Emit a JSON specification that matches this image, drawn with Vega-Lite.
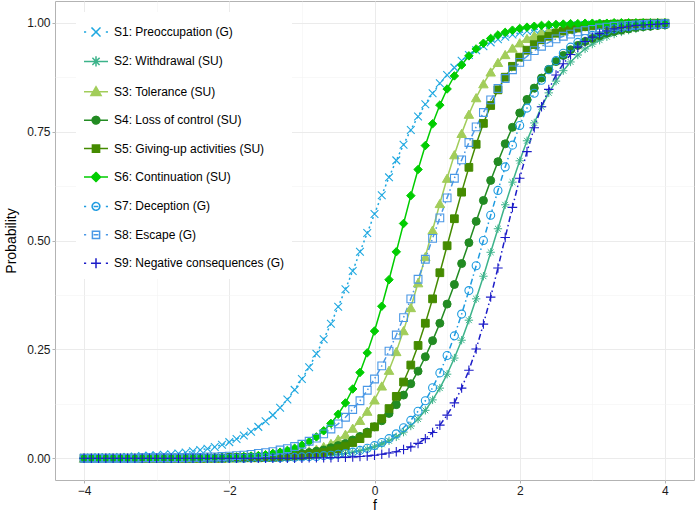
{
"$schema":"https://vega.github.io/schema/vega-lite/v6.json",
"width":639,"height":479,
"autosize":{"type":"none"},
"padding":{"left":55,"top":1,"right":3,"bottom":35},
"background":"white",
"config":{"view":{"stroke":"#B3B3B3","strokeWidth":1},"font":"Liberation Sans"},
"data":{"values":[
{"s":"S1","f":-4,"p":0.001},{"s":"S1","f":-3.9,"p":0.001},{"s":"S1","f":-3.8,"p":0.002},{"s":"S1","f":-3.7,"p":0.002},{"s":"S1","f":-3.6,"p":0.002},{"s":"S1","f":-3.5,"p":0.003},{"s":"S1","f":-3.4,"p":0.003},{"s":"S1","f":-3.3,"p":0.004},{"s":"S1","f":-3.2,"p":0.005},{"s":"S1","f":-3.1,"p":0.006},
{"s":"S1","f":-3,"p":0.007},{"s":"S1","f":-2.9,"p":0.008},{"s":"S1","f":-2.8,"p":0.009},{"s":"S1","f":-2.7,"p":0.011},{"s":"S1","f":-2.6,"p":0.013},{"s":"S1","f":-2.5,"p":0.016},{"s":"S1","f":-2.4,"p":0.019},{"s":"S1","f":-2.3,"p":0.022},{"s":"S1","f":-2.2,"p":0.026},{"s":"S1","f":-2.1,"p":0.031},
{"s":"S1","f":-2,"p":0.037},{"s":"S1","f":-1.9,"p":0.044},{"s":"S1","f":-1.8,"p":0.052},{"s":"S1","f":-1.7,"p":0.061},{"s":"S1","f":-1.6,"p":0.072},{"s":"S1","f":-1.5,"p":0.085},{"s":"S1","f":-1.4,"p":0.099},{"s":"S1","f":-1.3,"p":0.116},{"s":"S1","f":-1.2,"p":0.135},{"s":"S1","f":-1.1,"p":0.157},
{"s":"S1","f":-1,"p":0.182},{"s":"S1","f":-0.9,"p":0.209},{"s":"S1","f":-0.8,"p":0.240},{"s":"S1","f":-0.7,"p":0.273},{"s":"S1","f":-0.6,"p":0.309},{"s":"S1","f":-0.5,"p":0.348},{"s":"S1","f":-0.4,"p":0.388},{"s":"S1","f":-0.3,"p":0.430},{"s":"S1","f":-0.2,"p":0.474},{"s":"S1","f":-0.1,"p":0.517},
{"s":"S1","f":0,"p":0.561},{"s":"S1","f":0.1,"p":0.604},{"s":"S1","f":0.2,"p":0.645},{"s":"S1","f":0.3,"p":0.684},{"s":"S1","f":0.4,"p":0.720},{"s":"S1","f":0.5,"p":0.754},{"s":"S1","f":0.6,"p":0.785},{"s":"S1","f":0.7,"p":0.813},{"s":"S1","f":0.8,"p":0.838},{"s":"S1","f":0.9,"p":0.861},
{"s":"S1","f":1,"p":0.880},{"s":"S1","f":1.1,"p":0.897},{"s":"S1","f":1.2,"p":0.913},{"s":"S1","f":1.3,"p":0.926},{"s":"S1","f":1.4,"p":0.937},{"s":"S1","f":1.5,"p":0.946},{"s":"S1","f":1.6,"p":0.955},{"s":"S1","f":1.7,"p":0.962},{"s":"S1","f":1.8,"p":0.968},{"s":"S1","f":1.9,"p":0.973},
{"s":"S1","f":2,"p":0.977},{"s":"S1","f":2.1,"p":0.981},{"s":"S1","f":2.2,"p":0.984},{"s":"S1","f":2.3,"p":0.986},{"s":"S1","f":2.4,"p":0.988},{"s":"S1","f":2.5,"p":0.990},{"s":"S1","f":2.6,"p":0.992},{"s":"S1","f":2.7,"p":0.993},{"s":"S1","f":2.8,"p":0.994},{"s":"S1","f":2.9,"p":0.995},
{"s":"S1","f":3,"p":0.996},{"s":"S1","f":3.1,"p":0.997},{"s":"S1","f":3.2,"p":0.997},{"s":"S1","f":3.3,"p":0.998},{"s":"S1","f":3.4,"p":0.998},{"s":"S1","f":3.5,"p":0.998},{"s":"S1","f":3.6,"p":0.999},{"s":"S1","f":3.7,"p":0.999},{"s":"S1","f":3.8,"p":0.999},{"s":"S1","f":3.9,"p":0.999},{"s":"S1","f":4,"p":0.999},

{"s":"S2","f":-4,"p":0},{"s":"S2","f":-3.9,"p":0},{"s":"S2","f":-3.8,"p":0},{"s":"S2","f":-3.7,"p":0},{"s":"S2","f":-3.6,"p":0},{"s":"S2","f":-3.5,"p":0},{"s":"S2","f":-3.4,"p":0},{"s":"S2","f":-3.3,"p":0},{"s":"S2","f":-3.2,"p":0},{"s":"S2","f":-3.1,"p":0},
{"s":"S2","f":-3,"p":0},{"s":"S2","f":-2.9,"p":0},{"s":"S2","f":-2.8,"p":0},{"s":"S2","f":-2.7,"p":0},{"s":"S2","f":-2.6,"p":0},{"s":"S2","f":-2.5,"p":0},{"s":"S2","f":-2.4,"p":0},{"s":"S2","f":-2.3,"p":0},{"s":"S2","f":-2.2,"p":0},{"s":"S2","f":-2.1,"p":0},
{"s":"S2","f":-2,"p":0},{"s":"S2","f":-1.9,"p":0},{"s":"S2","f":-1.8,"p":0.001},{"s":"S2","f":-1.7,"p":0.001},{"s":"S2","f":-1.6,"p":0.001},{"s":"S2","f":-1.5,"p":0.001},{"s":"S2","f":-1.4,"p":0.001},{"s":"S2","f":-1.3,"p":0.002},{"s":"S2","f":-1.2,"p":0.002},{"s":"S2","f":-1.1,"p":0.002},
{"s":"S2","f":-1,"p":0.003},{"s":"S2","f":-0.9,"p":0.004},{"s":"S2","f":-0.8,"p":0.005},{"s":"S2","f":-0.7,"p":0.006},{"s":"S2","f":-0.6,"p":0.007},{"s":"S2","f":-0.5,"p":0.009},{"s":"S2","f":-0.4,"p":0.011},{"s":"S2","f":-0.3,"p":0.014},{"s":"S2","f":-0.2,"p":0.017},{"s":"S2","f":-0.1,"p":0.021},
{"s":"S2","f":0,"p":0.026},{"s":"S2","f":0.1,"p":0.032},{"s":"S2","f":0.2,"p":0.040},{"s":"S2","f":0.3,"p":0.049},{"s":"S2","f":0.4,"p":0.060},{"s":"S2","f":0.5,"p":0.074},{"s":"S2","f":0.6,"p":0.090},{"s":"S2","f":0.7,"p":0.110},{"s":"S2","f":0.8,"p":0.134},{"s":"S2","f":0.9,"p":0.161},
{"s":"S2","f":1,"p":0.193},{"s":"S2","f":1.1,"p":0.230},{"s":"S2","f":1.2,"p":0.271},{"s":"S2","f":1.3,"p":0.317},{"s":"S2","f":1.4,"p":0.366},{"s":"S2","f":1.5,"p":0.418},{"s":"S2","f":1.6,"p":0.473},{"s":"S2","f":1.7,"p":0.527},{"s":"S2","f":1.8,"p":0.582},{"s":"S2","f":1.9,"p":0.634},
{"s":"S2","f":2,"p":0.683},{"s":"S2","f":2.1,"p":0.729},{"s":"S2","f":2.2,"p":0.770},{"s":"S2","f":2.3,"p":0.807},{"s":"S2","f":2.4,"p":0.839},{"s":"S2","f":2.5,"p":0.866},{"s":"S2","f":2.6,"p":0.890},{"s":"S2","f":2.7,"p":0.910},{"s":"S2","f":2.8,"p":0.926},{"s":"S2","f":2.9,"p":0.940},
{"s":"S2","f":3,"p":0.951},{"s":"S2","f":3.1,"p":0.960},{"s":"S2","f":3.2,"p":0.968},{"s":"S2","f":3.3,"p":0.974},{"s":"S2","f":3.4,"p":0.979},{"s":"S2","f":3.5,"p":0.983},{"s":"S2","f":3.6,"p":0.986},{"s":"S2","f":3.7,"p":0.989},{"s":"S2","f":3.8,"p":0.991},{"s":"S2","f":3.9,"p":0.993},{"s":"S2","f":4,"p":0.994},

{"s":"S3","f":-4,"p":0},{"s":"S3","f":-3.9,"p":0},{"s":"S3","f":-3.8,"p":0},{"s":"S3","f":-3.7,"p":0},{"s":"S3","f":-3.6,"p":0},{"s":"S3","f":-3.5,"p":0},{"s":"S3","f":-3.4,"p":0},{"s":"S3","f":-3.3,"p":0},{"s":"S3","f":-3.2,"p":0},{"s":"S3","f":-3.1,"p":0},
{"s":"S3","f":-3,"p":0},{"s":"S3","f":-2.9,"p":0},{"s":"S3","f":-2.8,"p":0},{"s":"S3","f":-2.7,"p":0},{"s":"S3","f":-2.6,"p":0},{"s":"S3","f":-2.5,"p":0},{"s":"S3","f":-2.4,"p":0},{"s":"S3","f":-2.3,"p":0.001},{"s":"S3","f":-2.2,"p":0.001},{"s":"S3","f":-2.1,"p":0.001},
{"s":"S3","f":-2,"p":0.001},{"s":"S3","f":-1.9,"p":0.001},{"s":"S3","f":-1.8,"p":0.002},{"s":"S3","f":-1.7,"p":0.002},{"s":"S3","f":-1.6,"p":0.003},{"s":"S3","f":-1.5,"p":0.004},{"s":"S3","f":-1.4,"p":0.005},{"s":"S3","f":-1.3,"p":0.006},{"s":"S3","f":-1.2,"p":0.008},{"s":"S3","f":-1.1,"p":0.010},
{"s":"S3","f":-1,"p":0.013},{"s":"S3","f":-0.9,"p":0.017},{"s":"S3","f":-0.8,"p":0.021},{"s":"S3","f":-0.7,"p":0.027},{"s":"S3","f":-0.6,"p":0.034},{"s":"S3","f":-0.5,"p":0.044},{"s":"S3","f":-0.4,"p":0.055},{"s":"S3","f":-0.3,"p":0.069},{"s":"S3","f":-0.2,"p":0.087},{"s":"S3","f":-0.1,"p":0.108},
{"s":"S3","f":0,"p":0.134},{"s":"S3","f":0.1,"p":0.166},{"s":"S3","f":0.2,"p":0.202},{"s":"S3","f":0.3,"p":0.245},{"s":"S3","f":0.4,"p":0.293},{"s":"S3","f":0.5,"p":0.346},{"s":"S3","f":0.6,"p":0.403},{"s":"S3","f":0.7,"p":0.463},{"s":"S3","f":0.8,"p":0.524},{"s":"S3","f":0.9,"p":0.585},
{"s":"S3","f":1,"p":0.643},{"s":"S3","f":1.1,"p":0.697},{"s":"S3","f":1.2,"p":0.746},{"s":"S3","f":1.3,"p":0.790},{"s":"S3","f":1.4,"p":0.828},{"s":"S3","f":1.5,"p":0.860},{"s":"S3","f":1.6,"p":0.887},{"s":"S3","f":1.7,"p":0.909},{"s":"S3","f":1.8,"p":0.927},{"s":"S3","f":1.9,"p":0.942},
{"s":"S3","f":2,"p":0.954},{"s":"S3","f":2.1,"p":0.964},{"s":"S3","f":2.2,"p":0.971},{"s":"S3","f":2.3,"p":0.978},{"s":"S3","f":2.4,"p":0.982},{"s":"S3","f":2.5,"p":0.986},{"s":"S3","f":2.6,"p":0.989},{"s":"S3","f":2.7,"p":0.991},{"s":"S3","f":2.8,"p":0.993},{"s":"S3","f":2.9,"p":0.995},
{"s":"S3","f":3,"p":0.996},{"s":"S3","f":3.1,"p":0.997},{"s":"S3","f":3.2,"p":0.997},{"s":"S3","f":3.3,"p":0.998},{"s":"S3","f":3.4,"p":0.998},{"s":"S3","f":3.5,"p":0.999},{"s":"S3","f":3.6,"p":0.999},{"s":"S3","f":3.7,"p":0.999},{"s":"S3","f":3.8,"p":0.999},{"s":"S3","f":3.9,"p":1},{"s":"S3","f":4,"p":1},

{"s":"S4","f":-4,"p":0},{"s":"S4","f":-3.9,"p":0},{"s":"S4","f":-3.8,"p":0},{"s":"S4","f":-3.7,"p":0},{"s":"S4","f":-3.6,"p":0},{"s":"S4","f":-3.5,"p":0},{"s":"S4","f":-3.4,"p":0},{"s":"S4","f":-3.3,"p":0},{"s":"S4","f":-3.2,"p":0},{"s":"S4","f":-3.1,"p":0},
{"s":"S4","f":-3,"p":0},{"s":"S4","f":-2.9,"p":0},{"s":"S4","f":-2.8,"p":0},{"s":"S4","f":-2.7,"p":0},{"s":"S4","f":-2.6,"p":0},{"s":"S4","f":-2.5,"p":0.001},{"s":"S4","f":-2.4,"p":0.001},{"s":"S4","f":-2.3,"p":0.001},{"s":"S4","f":-2.2,"p":0.001},{"s":"S4","f":-2.1,"p":0.001},
{"s":"S4","f":-2,"p":0.002},{"s":"S4","f":-1.9,"p":0.002},{"s":"S4","f":-1.8,"p":0.002},{"s":"S4","f":-1.7,"p":0.003},{"s":"S4","f":-1.6,"p":0.003},{"s":"S4","f":-1.5,"p":0.004},{"s":"S4","f":-1.4,"p":0.005},{"s":"S4","f":-1.3,"p":0.006},{"s":"S4","f":-1.2,"p":0.007},{"s":"S4","f":-1.1,"p":0.009},
{"s":"S4","f":-1,"p":0.011},{"s":"S4","f":-0.9,"p":0.013},{"s":"S4","f":-0.8,"p":0.016},{"s":"S4","f":-0.7,"p":0.019},{"s":"S4","f":-0.6,"p":0.024},{"s":"S4","f":-0.5,"p":0.029},{"s":"S4","f":-0.4,"p":0.034},{"s":"S4","f":-0.3,"p":0.042},{"s":"S4","f":-0.2,"p":0.050},{"s":"S4","f":-0.1,"p":0.060},
{"s":"S4","f":0,"p":0.072},{"s":"S4","f":0.1,"p":0.086},{"s":"S4","f":0.2,"p":0.103},{"s":"S4","f":0.3,"p":0.123},{"s":"S4","f":0.4,"p":0.145},{"s":"S4","f":0.5,"p":0.171},{"s":"S4","f":0.6,"p":0.200},{"s":"S4","f":0.7,"p":0.233},{"s":"S4","f":0.8,"p":0.270},{"s":"S4","f":0.9,"p":0.310},
{"s":"S4","f":1,"p":0.354},{"s":"S4","f":1.1,"p":0.399},{"s":"S4","f":1.2,"p":0.447},{"s":"S4","f":1.3,"p":0.495},{"s":"S4","f":1.4,"p":0.544},{"s":"S4","f":1.5,"p":0.592},{"s":"S4","f":1.6,"p":0.638},{"s":"S4","f":1.7,"p":0.681},{"s":"S4","f":1.8,"p":0.722},{"s":"S4","f":1.9,"p":0.760},
{"s":"S4","f":2,"p":0.793},{"s":"S4","f":2.1,"p":0.824},{"s":"S4","f":2.2,"p":0.850},{"s":"S4","f":2.3,"p":0.873},{"s":"S4","f":2.4,"p":0.893},{"s":"S4","f":2.5,"p":0.911},{"s":"S4","f":2.6,"p":0.925},{"s":"S4","f":2.7,"p":0.938},{"s":"S4","f":2.8,"p":0.948},{"s":"S4","f":2.9,"p":0.957},
{"s":"S4","f":3,"p":0.964},{"s":"S4","f":3.1,"p":0.970},{"s":"S4","f":3.2,"p":0.976},{"s":"S4","f":3.3,"p":0.980},{"s":"S4","f":3.4,"p":0.983},{"s":"S4","f":3.5,"p":0.986},{"s":"S4","f":3.6,"p":0.989},{"s":"S4","f":3.7,"p":0.991},{"s":"S4","f":3.8,"p":0.992},{"s":"S4","f":3.9,"p":0.994},{"s":"S4","f":4,"p":0.995},

{"s":"S5","f":-4,"p":0},{"s":"S5","f":-3.9,"p":0},{"s":"S5","f":-3.8,"p":0},{"s":"S5","f":-3.7,"p":0},{"s":"S5","f":-3.6,"p":0},{"s":"S5","f":-3.5,"p":0},{"s":"S5","f":-3.4,"p":0},{"s":"S5","f":-3.3,"p":0},{"s":"S5","f":-3.2,"p":0},{"s":"S5","f":-3.1,"p":0},
{"s":"S5","f":-3,"p":0},{"s":"S5","f":-2.9,"p":0},{"s":"S5","f":-2.8,"p":0},{"s":"S5","f":-2.7,"p":0},{"s":"S5","f":-2.6,"p":0},{"s":"S5","f":-2.5,"p":0},{"s":"S5","f":-2.4,"p":0},{"s":"S5","f":-2.3,"p":0},{"s":"S5","f":-2.2,"p":0},{"s":"S5","f":-2.1,"p":0},
{"s":"S5","f":-2,"p":0.001},{"s":"S5","f":-1.9,"p":0.001},{"s":"S5","f":-1.8,"p":0.001},{"s":"S5","f":-1.7,"p":0.001},{"s":"S5","f":-1.6,"p":0.001},{"s":"S5","f":-1.5,"p":0.002},{"s":"S5","f":-1.4,"p":0.002},{"s":"S5","f":-1.3,"p":0.003},{"s":"S5","f":-1.2,"p":0.004},{"s":"S5","f":-1.1,"p":0.005},
{"s":"S5","f":-1,"p":0.006},{"s":"S5","f":-0.9,"p":0.008},{"s":"S5","f":-0.8,"p":0.010},{"s":"S5","f":-0.7,"p":0.013},{"s":"S5","f":-0.6,"p":0.017},{"s":"S5","f":-0.5,"p":0.022},{"s":"S5","f":-0.4,"p":0.028},{"s":"S5","f":-0.3,"p":0.036},{"s":"S5","f":-0.2,"p":0.045},{"s":"S5","f":-0.1,"p":0.057},
{"s":"S5","f":0,"p":0.072},{"s":"S5","f":0.1,"p":0.091},{"s":"S5","f":0.2,"p":0.114},{"s":"S5","f":0.3,"p":0.142},{"s":"S5","f":0.4,"p":0.175},{"s":"S5","f":0.5,"p":0.214},{"s":"S5","f":0.6,"p":0.259},{"s":"S5","f":0.7,"p":0.310},{"s":"S5","f":0.8,"p":0.366},{"s":"S5","f":0.9,"p":0.426},
{"s":"S5","f":1,"p":0.488},{"s":"S5","f":1.1,"p":0.550},{"s":"S5","f":1.2,"p":0.611},{"s":"S5","f":1.3,"p":0.668},{"s":"S5","f":1.4,"p":0.721},{"s":"S5","f":1.5,"p":0.769},{"s":"S5","f":1.6,"p":0.810},{"s":"S5","f":1.7,"p":0.846},{"s":"S5","f":1.8,"p":0.875},{"s":"S5","f":1.9,"p":0.900},
{"s":"S5","f":2,"p":0.921},{"s":"S5","f":2.1,"p":0.937},{"s":"S5","f":2.2,"p":0.950},{"s":"S5","f":2.3,"p":0.961},{"s":"S5","f":2.4,"p":0.969},{"s":"S5","f":2.5,"p":0.976},{"s":"S5","f":2.6,"p":0.981},{"s":"S5","f":2.7,"p":0.985},{"s":"S5","f":2.8,"p":0.988},{"s":"S5","f":2.9,"p":0.991},
{"s":"S5","f":3,"p":0.993},{"s":"S5","f":3.1,"p":0.995},{"s":"S5","f":3.2,"p":0.996},{"s":"S5","f":3.3,"p":0.997},{"s":"S5","f":3.4,"p":0.997},{"s":"S5","f":3.5,"p":0.998},{"s":"S5","f":3.6,"p":0.998},{"s":"S5","f":3.7,"p":0.999},{"s":"S5","f":3.8,"p":0.999},{"s":"S5","f":3.9,"p":0.999},{"s":"S5","f":4,"p":0.999},

{"s":"S6","f":-4,"p":0},{"s":"S6","f":-3.9,"p":0},{"s":"S6","f":-3.8,"p":0},{"s":"S6","f":-3.7,"p":0},{"s":"S6","f":-3.6,"p":0},{"s":"S6","f":-3.5,"p":0},{"s":"S6","f":-3.4,"p":0},{"s":"S6","f":-3.3,"p":0},{"s":"S6","f":-3.2,"p":0},{"s":"S6","f":-3.1,"p":0},
{"s":"S6","f":-3,"p":0},{"s":"S6","f":-2.9,"p":0},{"s":"S6","f":-2.8,"p":0},{"s":"S6","f":-2.7,"p":0},{"s":"S6","f":-2.6,"p":0},{"s":"S6","f":-2.5,"p":0.001},{"s":"S6","f":-2.4,"p":0.001},{"s":"S6","f":-2.3,"p":0.001},{"s":"S6","f":-2.2,"p":0.001},{"s":"S6","f":-2.1,"p":0.002},
{"s":"S6","f":-2,"p":0.002},{"s":"S6","f":-1.9,"p":0.003},{"s":"S6","f":-1.8,"p":0.004},{"s":"S6","f":-1.7,"p":0.005},{"s":"S6","f":-1.6,"p":0.006},{"s":"S6","f":-1.5,"p":0.008},{"s":"S6","f":-1.4,"p":0.011},{"s":"S6","f":-1.3,"p":0.014},{"s":"S6","f":-1.2,"p":0.018},{"s":"S6","f":-1.1,"p":0.023},
{"s":"S6","f":-1,"p":0.030},{"s":"S6","f":-0.9,"p":0.038},{"s":"S6","f":-0.8,"p":0.049},{"s":"S6","f":-0.7,"p":0.063},{"s":"S6","f":-0.6,"p":0.080},{"s":"S6","f":-0.5,"p":0.101},{"s":"S6","f":-0.4,"p":0.127},{"s":"S6","f":-0.3,"p":0.159},{"s":"S6","f":-0.2,"p":0.197},{"s":"S6","f":-0.1,"p":0.242},
{"s":"S6","f":0,"p":0.292},{"s":"S6","f":0.1,"p":0.349},{"s":"S6","f":0.2,"p":0.410},{"s":"S6","f":0.3,"p":0.474},{"s":"S6","f":0.4,"p":0.539},{"s":"S6","f":0.5,"p":0.603},{"s":"S6","f":0.6,"p":0.663},{"s":"S6","f":0.7,"p":0.718},{"s":"S6","f":0.8,"p":0.768},{"s":"S6","f":0.9,"p":0.811},
{"s":"S6","f":1,"p":0.848},{"s":"S6","f":1.1,"p":0.878},{"s":"S6","f":1.2,"p":0.903},{"s":"S6","f":1.3,"p":0.924},{"s":"S6","f":1.4,"p":0.940},{"s":"S6","f":1.5,"p":0.953},{"s":"S6","f":1.6,"p":0.964},{"s":"S6","f":1.7,"p":0.972},{"s":"S6","f":1.8,"p":0.978},{"s":"S6","f":1.9,"p":0.983},
{"s":"S6","f":2,"p":0.987},{"s":"S6","f":2.1,"p":0.990},{"s":"S6","f":2.2,"p":0.992},{"s":"S6","f":2.3,"p":0.994},{"s":"S6","f":2.4,"p":0.995},{"s":"S6","f":2.5,"p":0.996},{"s":"S6","f":2.6,"p":0.997},{"s":"S6","f":2.7,"p":0.998},{"s":"S6","f":2.8,"p":0.998},{"s":"S6","f":2.9,"p":0.999},
{"s":"S6","f":3,"p":0.999},{"s":"S6","f":3.1,"p":0.999},{"s":"S6","f":3.2,"p":0.999},{"s":"S6","f":3.3,"p":1},{"s":"S6","f":3.4,"p":1},{"s":"S6","f":3.5,"p":1},{"s":"S6","f":3.6,"p":1},{"s":"S6","f":3.7,"p":1},{"s":"S6","f":3.8,"p":1},{"s":"S6","f":3.9,"p":1},{"s":"S6","f":4,"p":1},

{"s":"S7","f":-4,"p":0},{"s":"S7","f":-3.9,"p":0},{"s":"S7","f":-3.8,"p":0},{"s":"S7","f":-3.7,"p":0},{"s":"S7","f":-3.6,"p":0},{"s":"S7","f":-3.5,"p":0},{"s":"S7","f":-3.4,"p":0},{"s":"S7","f":-3.3,"p":0},{"s":"S7","f":-3.2,"p":0},{"s":"S7","f":-3.1,"p":0},
{"s":"S7","f":-3,"p":0},{"s":"S7","f":-2.9,"p":0},{"s":"S7","f":-2.8,"p":0},{"s":"S7","f":-2.7,"p":0},{"s":"S7","f":-2.6,"p":0},{"s":"S7","f":-2.5,"p":0},{"s":"S7","f":-2.4,"p":0},{"s":"S7","f":-2.3,"p":0},{"s":"S7","f":-2.2,"p":0},{"s":"S7","f":-2.1,"p":0},
{"s":"S7","f":-2,"p":0},{"s":"S7","f":-1.9,"p":0},{"s":"S7","f":-1.8,"p":0},{"s":"S7","f":-1.7,"p":0.001},{"s":"S7","f":-1.6,"p":0.001},{"s":"S7","f":-1.5,"p":0.001},{"s":"S7","f":-1.4,"p":0.001},{"s":"S7","f":-1.3,"p":0.001},{"s":"S7","f":-1.2,"p":0.002},{"s":"S7","f":-1.1,"p":0.002},
{"s":"S7","f":-1,"p":0.003},{"s":"S7","f":-0.9,"p":0.004},{"s":"S7","f":-0.8,"p":0.004},{"s":"S7","f":-0.7,"p":0.006},{"s":"S7","f":-0.6,"p":0.007},{"s":"S7","f":-0.5,"p":0.009},{"s":"S7","f":-0.4,"p":0.011},{"s":"S7","f":-0.3,"p":0.014},{"s":"S7","f":-0.2,"p":0.018},{"s":"S7","f":-0.1,"p":0.023},
{"s":"S7","f":0,"p":0.029},{"s":"S7","f":0.1,"p":0.036},{"s":"S7","f":0.2,"p":0.045},{"s":"S7","f":0.3,"p":0.056},{"s":"S7","f":0.4,"p":0.070},{"s":"S7","f":0.5,"p":0.087},{"s":"S7","f":0.6,"p":0.108},{"s":"S7","f":0.7,"p":0.132},{"s":"S7","f":0.8,"p":0.162},{"s":"S7","f":0.9,"p":0.196},
{"s":"S7","f":1,"p":0.236},{"s":"S7","f":1.1,"p":0.281},{"s":"S7","f":1.2,"p":0.331},{"s":"S7","f":1.3,"p":0.385},{"s":"S7","f":1.4,"p":0.442},{"s":"S7","f":1.5,"p":0.500},{"s":"S7","f":1.6,"p":0.558},{"s":"S7","f":1.7,"p":0.615},{"s":"S7","f":1.8,"p":0.669},{"s":"S7","f":1.9,"p":0.719},
{"s":"S7","f":2,"p":0.764},{"s":"S7","f":2.1,"p":0.804},{"s":"S7","f":2.2,"p":0.838},{"s":"S7","f":2.3,"p":0.868},{"s":"S7","f":2.4,"p":0.892},{"s":"S7","f":2.5,"p":0.913},{"s":"S7","f":2.6,"p":0.930},{"s":"S7","f":2.7,"p":0.944},{"s":"S7","f":2.8,"p":0.955},{"s":"S7","f":2.9,"p":0.964},
{"s":"S7","f":3,"p":0.971},{"s":"S7","f":3.1,"p":0.977},{"s":"S7","f":3.2,"p":0.982},{"s":"S7","f":3.3,"p":0.986},{"s":"S7","f":3.4,"p":0.989},{"s":"S7","f":3.5,"p":0.991},{"s":"S7","f":3.6,"p":0.993},{"s":"S7","f":3.7,"p":0.994},{"s":"S7","f":3.8,"p":0.996},{"s":"S7","f":3.9,"p":0.996},{"s":"S7","f":4,"p":0.997},

{"s":"S8","f":-4,"p":0},{"s":"S8","f":-3.9,"p":0},{"s":"S8","f":-3.8,"p":0},{"s":"S8","f":-3.7,"p":0},{"s":"S8","f":-3.6,"p":0},{"s":"S8","f":-3.5,"p":0},{"s":"S8","f":-3.4,"p":0},{"s":"S8","f":-3.3,"p":0},{"s":"S8","f":-3.2,"p":0.001},{"s":"S8","f":-3.1,"p":0.001},
{"s":"S8","f":-3,"p":0.001},{"s":"S8","f":-2.9,"p":0.001},{"s":"S8","f":-2.8,"p":0.001},{"s":"S8","f":-2.7,"p":0.001},{"s":"S8","f":-2.6,"p":0.002},{"s":"S8","f":-2.5,"p":0.002},{"s":"S8","f":-2.4,"p":0.002},{"s":"S8","f":-2.3,"p":0.003},{"s":"S8","f":-2.2,"p":0.003},{"s":"S8","f":-2.1,"p":0.004},
{"s":"S8","f":-2,"p":0.005},{"s":"S8","f":-1.9,"p":0.006},{"s":"S8","f":-1.8,"p":0.007},{"s":"S8","f":-1.7,"p":0.009},{"s":"S8","f":-1.6,"p":0.011},{"s":"S8","f":-1.5,"p":0.013},{"s":"S8","f":-1.4,"p":0.015},{"s":"S8","f":-1.3,"p":0.019},{"s":"S8","f":-1.2,"p":0.022},{"s":"S8","f":-1.1,"p":0.027},
{"s":"S8","f":-1,"p":0.032},{"s":"S8","f":-0.9,"p":0.039},{"s":"S8","f":-0.8,"p":0.046},{"s":"S8","f":-0.7,"p":0.056},{"s":"S8","f":-0.6,"p":0.067},{"s":"S8","f":-0.5,"p":0.079},{"s":"S8","f":-0.4,"p":0.094},{"s":"S8","f":-0.3,"p":0.112},{"s":"S8","f":-0.2,"p":0.132},{"s":"S8","f":-0.1,"p":0.156},
{"s":"S8","f":0,"p":0.182},{"s":"S8","f":0.1,"p":0.212},{"s":"S8","f":0.2,"p":0.246},{"s":"S8","f":0.3,"p":0.283},{"s":"S8","f":0.4,"p":0.323},{"s":"S8","f":0.5,"p":0.366},{"s":"S8","f":0.6,"p":0.411},{"s":"S8","f":0.7,"p":0.457},{"s":"S8","f":0.8,"p":0.505},{"s":"S8","f":0.9,"p":0.552},
{"s":"S8","f":1,"p":0.598},{"s":"S8","f":1.1,"p":0.643},{"s":"S8","f":1.2,"p":0.685},{"s":"S8","f":1.3,"p":0.725},{"s":"S8","f":1.4,"p":0.761},{"s":"S8","f":1.5,"p":0.794},{"s":"S8","f":1.6,"p":0.823},{"s":"S8","f":1.7,"p":0.849},{"s":"S8","f":1.8,"p":0.872},{"s":"S8","f":1.9,"p":0.892},
{"s":"S8","f":2,"p":0.909},{"s":"S8","f":2.1,"p":0.923},{"s":"S8","f":2.2,"p":0.936},{"s":"S8","f":2.3,"p":0.946},{"s":"S8","f":2.4,"p":0.955},{"s":"S8","f":2.5,"p":0.963},{"s":"S8","f":2.6,"p":0.969},{"s":"S8","f":2.7,"p":0.974},{"s":"S8","f":2.8,"p":0.979},{"s":"S8","f":2.9,"p":0.982},
{"s":"S8","f":3,"p":0.985},{"s":"S8","f":3.1,"p":0.988},{"s":"S8","f":3.2,"p":0.990},{"s":"S8","f":3.3,"p":0.992},{"s":"S8","f":3.4,"p":0.993},{"s":"S8","f":3.5,"p":0.994},{"s":"S8","f":3.6,"p":0.995},{"s":"S8","f":3.7,"p":0.996},{"s":"S8","f":3.8,"p":0.997},{"s":"S8","f":3.9,"p":0.997},{"s":"S8","f":4,"p":0.998},

{"s":"S9","f":-4,"p":0},{"s":"S9","f":-3.9,"p":0},{"s":"S9","f":-3.8,"p":0},{"s":"S9","f":-3.7,"p":0},{"s":"S9","f":-3.6,"p":0},{"s":"S9","f":-3.5,"p":0},{"s":"S9","f":-3.4,"p":0},{"s":"S9","f":-3.3,"p":0},{"s":"S9","f":-3.2,"p":0},{"s":"S9","f":-3.1,"p":0},
{"s":"S9","f":-3,"p":0},{"s":"S9","f":-2.9,"p":0},{"s":"S9","f":-2.8,"p":0},{"s":"S9","f":-2.7,"p":0},{"s":"S9","f":-2.6,"p":0},{"s":"S9","f":-2.5,"p":0},{"s":"S9","f":-2.4,"p":0},{"s":"S9","f":-2.3,"p":0},{"s":"S9","f":-2.2,"p":0},{"s":"S9","f":-2.1,"p":0},
{"s":"S9","f":-2,"p":0},{"s":"S9","f":-1.9,"p":0},{"s":"S9","f":-1.8,"p":0},{"s":"S9","f":-1.7,"p":0},{"s":"S9","f":-1.6,"p":0},{"s":"S9","f":-1.5,"p":0},{"s":"S9","f":-1.4,"p":0},{"s":"S9","f":-1.3,"p":0},{"s":"S9","f":-1.2,"p":0},{"s":"S9","f":-1.1,"p":0},
{"s":"S9","f":-1,"p":0},{"s":"S9","f":-0.9,"p":0.001},{"s":"S9","f":-0.8,"p":0.001},{"s":"S9","f":-0.7,"p":0.001},{"s":"S9","f":-0.6,"p":0.001},{"s":"S9","f":-0.5,"p":0.002},{"s":"S9","f":-0.4,"p":0.002},{"s":"S9","f":-0.3,"p":0.003},{"s":"S9","f":-0.2,"p":0.004},{"s":"S9","f":-0.1,"p":0.005},
{"s":"S9","f":0,"p":0.007},{"s":"S9","f":0.1,"p":0.009},{"s":"S9","f":0.2,"p":0.012},{"s":"S9","f":0.3,"p":0.015},{"s":"S9","f":0.4,"p":0.020},{"s":"S9","f":0.5,"p":0.026},{"s":"S9","f":0.6,"p":0.034},{"s":"S9","f":0.7,"p":0.045},{"s":"S9","f":0.8,"p":0.059},{"s":"S9","f":0.9,"p":0.076},
{"s":"S9","f":1,"p":0.099},{"s":"S9","f":1.1,"p":0.127},{"s":"S9","f":1.2,"p":0.161},{"s":"S9","f":1.3,"p":0.202},{"s":"S9","f":1.4,"p":0.251},{"s":"S9","f":1.5,"p":0.308},{"s":"S9","f":1.6,"p":0.370},{"s":"S9","f":1.7,"p":0.437},{"s":"S9","f":1.8,"p":0.507},{"s":"S9","f":1.9,"p":0.576},
{"s":"S9","f":2,"p":0.643},{"s":"S9","f":2.1,"p":0.704},{"s":"S9","f":2.2,"p":0.759},{"s":"S9","f":2.3,"p":0.807},{"s":"S9","f":2.4,"p":0.847},{"s":"S9","f":2.5,"p":0.880},{"s":"S9","f":2.6,"p":0.906},{"s":"S9","f":2.7,"p":0.927},{"s":"S9","f":2.8,"p":0.944},{"s":"S9","f":2.9,"p":0.957},
{"s":"S9","f":3,"p":0.967},{"s":"S9","f":3.1,"p":0.975},{"s":"S9","f":3.2,"p":0.981},{"s":"S9","f":3.3,"p":0.986},{"s":"S9","f":3.4,"p":0.989},{"s":"S9","f":3.5,"p":0.992},{"s":"S9","f":3.6,"p":0.994},{"s":"S9","f":3.7,"p":0.995},{"s":"S9","f":3.8,"p":0.996},{"s":"S9","f":3.9,"p":0.997},{"s":"S9","f":4,"p":0.998}
]},
"transform":[{"lookup":"s","from":{"data":{"values":[
{"s":"S1","label":"S1: Preoccupation (G)"},{"s":"S2","label":"S2: Withdrawal (SU)"},{"s":"S3","label":"S3: Tolerance (SU)"},{"s":"S4","label":"S4: Loss of control (SU)"},{"s":"S5","label":"S5: Giving-up activities (SU)"},{"s":"S6","label":"S6: Continuation (SU)"},{"s":"S7","label":"S7: Deception (G)"},{"s":"S8","label":"S8: Escape (G)"},{"s":"S9","label":"S9: Negative consequences (G)"}
]},"key":"s","fields":["label"]}}],
"encoding":{
"x":{"field":"f","type":"quantitative","scale":{"domain":[-4.4,4.4],"nice":false,"zero":false},
"axis":{"values":[-4,-3,-2,-1,0,1,2,3,4],"labelExpr":"datum.value % 2 == 0 ? datum.label : ''","title":"f","domain":false,
"grid":true,"gridColor":{"condition":{"test":"datum.value % 2 != 0","value":"#F3F3F3"},"value":"#EBEBEB"},"gridWidth":{"condition":{"test":"datum.value % 2 != 0","value":0.6},"value":1},
"tickOpacity":{"condition":{"test":"datum.value % 2 != 0","value":0},"value":1},"tickColor":"#B3B3B3","tickSize":3,
"labelFontSize":12,"labelColor":"#1A1A1A","labelPadding":2,"labelFont":"Liberation Sans",
"titleFontSize":14,"titleFontWeight":"normal","titleColor":"#000000","titlePadding":2,"titleFont":"Liberation Sans"}},
"y":{"field":"p","type":"quantitative","scale":{"domain":[-0.05,1.05],"nice":false,"zero":false},
"axis":{"values":[0,0.125,0.25,0.375,0.5,0.625,0.75,0.875,1],"labelExpr":"(datum.value*4)%1 == 0 ? format(datum.value,'.2f') : ''","title":"Probability","domain":false,
"grid":true,"gridColor":{"condition":{"test":"(datum.value*4)%1 != 0","value":"#F3F3F3"},"value":"#EBEBEB"},"gridWidth":{"condition":{"test":"(datum.value*4)%1 != 0","value":0.6},"value":1},
"tickOpacity":{"condition":{"test":"(datum.value*4)%1 != 0","value":0},"value":1},"tickColor":"#B3B3B3","tickSize":3,
"labelFontSize":12,"labelColor":"#1A1A1A","labelPadding":2,"labelFont":"Liberation Sans",
"titleFontSize":14,"titleFontWeight":"normal","titleColor":"#000000","titlePadding":8,"titleFont":"Liberation Sans"}},
"stroke":{"field":"label","type":"nominal","scale":{"domain":["S1: Preoccupation (G)","S2: Withdrawal (SU)","S3: Tolerance (SU)","S4: Loss of control (SU)","S5: Giving-up activities (SU)","S6: Continuation (SU)","S7: Deception (G)","S8: Escape (G)","S9: Negative consequences (G)"],"range":["#1FA8E0","#3CB38A","#A2CD5A","#228B22","#458B00","#00CD00","#1E9BE0","#4A98E6","#1C1CC8"]},
"legend":{"orient":"none","legendX":21,"legendY":11,"title":null,"symbolSize":576,"rowPadding":8.4,"labelFontSize":12,"labelFont":"Liberation Sans","labelColor":"#000000","labelOffset":5,"labelLimit":400,"padding":7,"fillColor":"white","symbolStrokeWidth":1.5,"symbolOpacity":1,
"encode":{"symbols":{"update":{"strokeDash":{"value":[1,0]},"fill":{"signal":"indexof(['S3: Tolerance (SU)','S4: Loss of control (SU)','S5: Giving-up activities (SU)','S6: Continuation (SU)'],datum.value) >= 0 ? scale('stroke', datum.value) : 'transparent'"},"shape":{"signal":"['M-1,0L-0.82,0M0.82,0L1,0M-0.38,-0.38L0.38,0.38M-0.38,0.38L0.38,-0.38','M-1,0L1,0M0,-0.42L0,0.42M-0.3,-0.3L0.3,0.3M-0.3,0.3L0.3,-0.3','M-1,0L1,0M0,-0.42L0.42,0.3L-0.42,0.3Z','M-1,0L1,0M-0.32,0A0.32,0.32,0,1,0,0.32,0A0.32,0.32,0,1,0,-0.32,0Z','M-1,0L1,0M-0.3,-0.3L0.3,-0.3L0.3,0.3L-0.3,0.3Z','M-1,0L1,0M0,-0.38L0.38,0L0,0.38L-0.38,0Z','M-1,0L-0.82,0M0.82,0L1,0M-0.2,0L0.2,0M-0.32,0A0.32,0.32,0,1,0,0.32,0A0.32,0.32,0,1,0,-0.32,0Z','M-1,0L-0.82,0M0.82,0L1,0M-0.2,0L0.2,0M-0.3,-0.3L0.3,-0.3L0.3,0.3L-0.3,0.3Z','M-1,0L-0.82,0M0.82,0L1,0M-0.42,0L0.42,0M0,-0.42L0,0.42'][indexof(['S1: Preoccupation (G)','S2: Withdrawal (SU)','S3: Tolerance (SU)','S4: Loss of control (SU)','S5: Giving-up activities (SU)','S6: Continuation (SU)','S7: Deception (G)','S8: Escape (G)','S9: Negative consequences (G)'],datum.value)]"}}}}}}
},
"layer":[
{"transform":[{"filter":{"field":"s","oneOf":["S2","S3","S4","S5","S6"]}}],"mark":{"type":"line","strokeWidth":1.5},"encoding":{}},
{"transform":[{"filter":{"field":"s","oneOf":["S1"]}}],"mark":{"type":"line","strokeWidth":1.5,"strokeDash":[2,3]},"encoding":{}},
{"transform":[{"filter":{"field":"s","oneOf":["S7","S8","S9"]}}],"mark":{"type":"line","strokeWidth":1.5,"strokeDash":[6,3,1.5,3]},"encoding":{}},
{"transform":[{"filter":{"field":"s","oneOf":["S1"]}}],"mark":{"type":"point","shape":"M-1,-1L1,1M-1,1L1,-1","size":60,"filled":false,"fill":"transparent","opacity":1,"strokeWidth":1.1},"encoding":{}},
{"transform":[{"filter":{"field":"s","oneOf":["S2"]}}],"mark":{"type":"point","shape":"M-1,0L1,0M0,-1L0,1M-0.7,-0.7L0.7,0.7M-0.7,0.7L0.7,-0.7","size":70,"filled":false,"fill":"transparent","opacity":1,"strokeWidth":1},"encoding":{}},
{"transform":[{"filter":{"field":"s","oneOf":["S3"]}}],"mark":{"type":"point","shape":"triangle-up","size":90,"filled":false,"fill":"#A2CD5A","opacity":1,"strokeWidth":1},"encoding":{}},
{"transform":[{"filter":{"field":"s","oneOf":["S4"]}}],"mark":{"type":"point","shape":"circle","size":64,"filled":false,"fill":"#228B22","opacity":1,"strokeWidth":1},"encoding":{}},
{"transform":[{"filter":{"field":"s","oneOf":["S5"]}}],"mark":{"type":"point","shape":"square","size":60,"filled":false,"fill":"#458B00","opacity":1,"strokeWidth":1},"encoding":{}},
{"transform":[{"filter":{"field":"s","oneOf":["S6"]}}],"mark":{"type":"point","shape":"diamond","size":72,"filled":false,"fill":"#00CD00","opacity":1,"strokeWidth":1},"encoding":{}},
{"transform":[{"filter":{"field":"s","oneOf":["S7"]}}],"mark":{"type":"point","shape":"circle","size":64,"filled":false,"fill":"transparent","opacity":1,"strokeWidth":1.1},"encoding":{}},
{"transform":[{"filter":{"field":"s","oneOf":["S8"]}}],"mark":{"type":"point","shape":"square","size":60,"filled":false,"fill":"transparent","opacity":1,"strokeWidth":1.1},"encoding":{}},
{"transform":[{"filter":{"field":"s","oneOf":["S9"]}}],"mark":{"type":"point","shape":"M-1,0L1,0M0,-1L0,1","size":90,"filled":false,"fill":"transparent","opacity":1,"strokeWidth":1.1},"encoding":{}}
]
}
